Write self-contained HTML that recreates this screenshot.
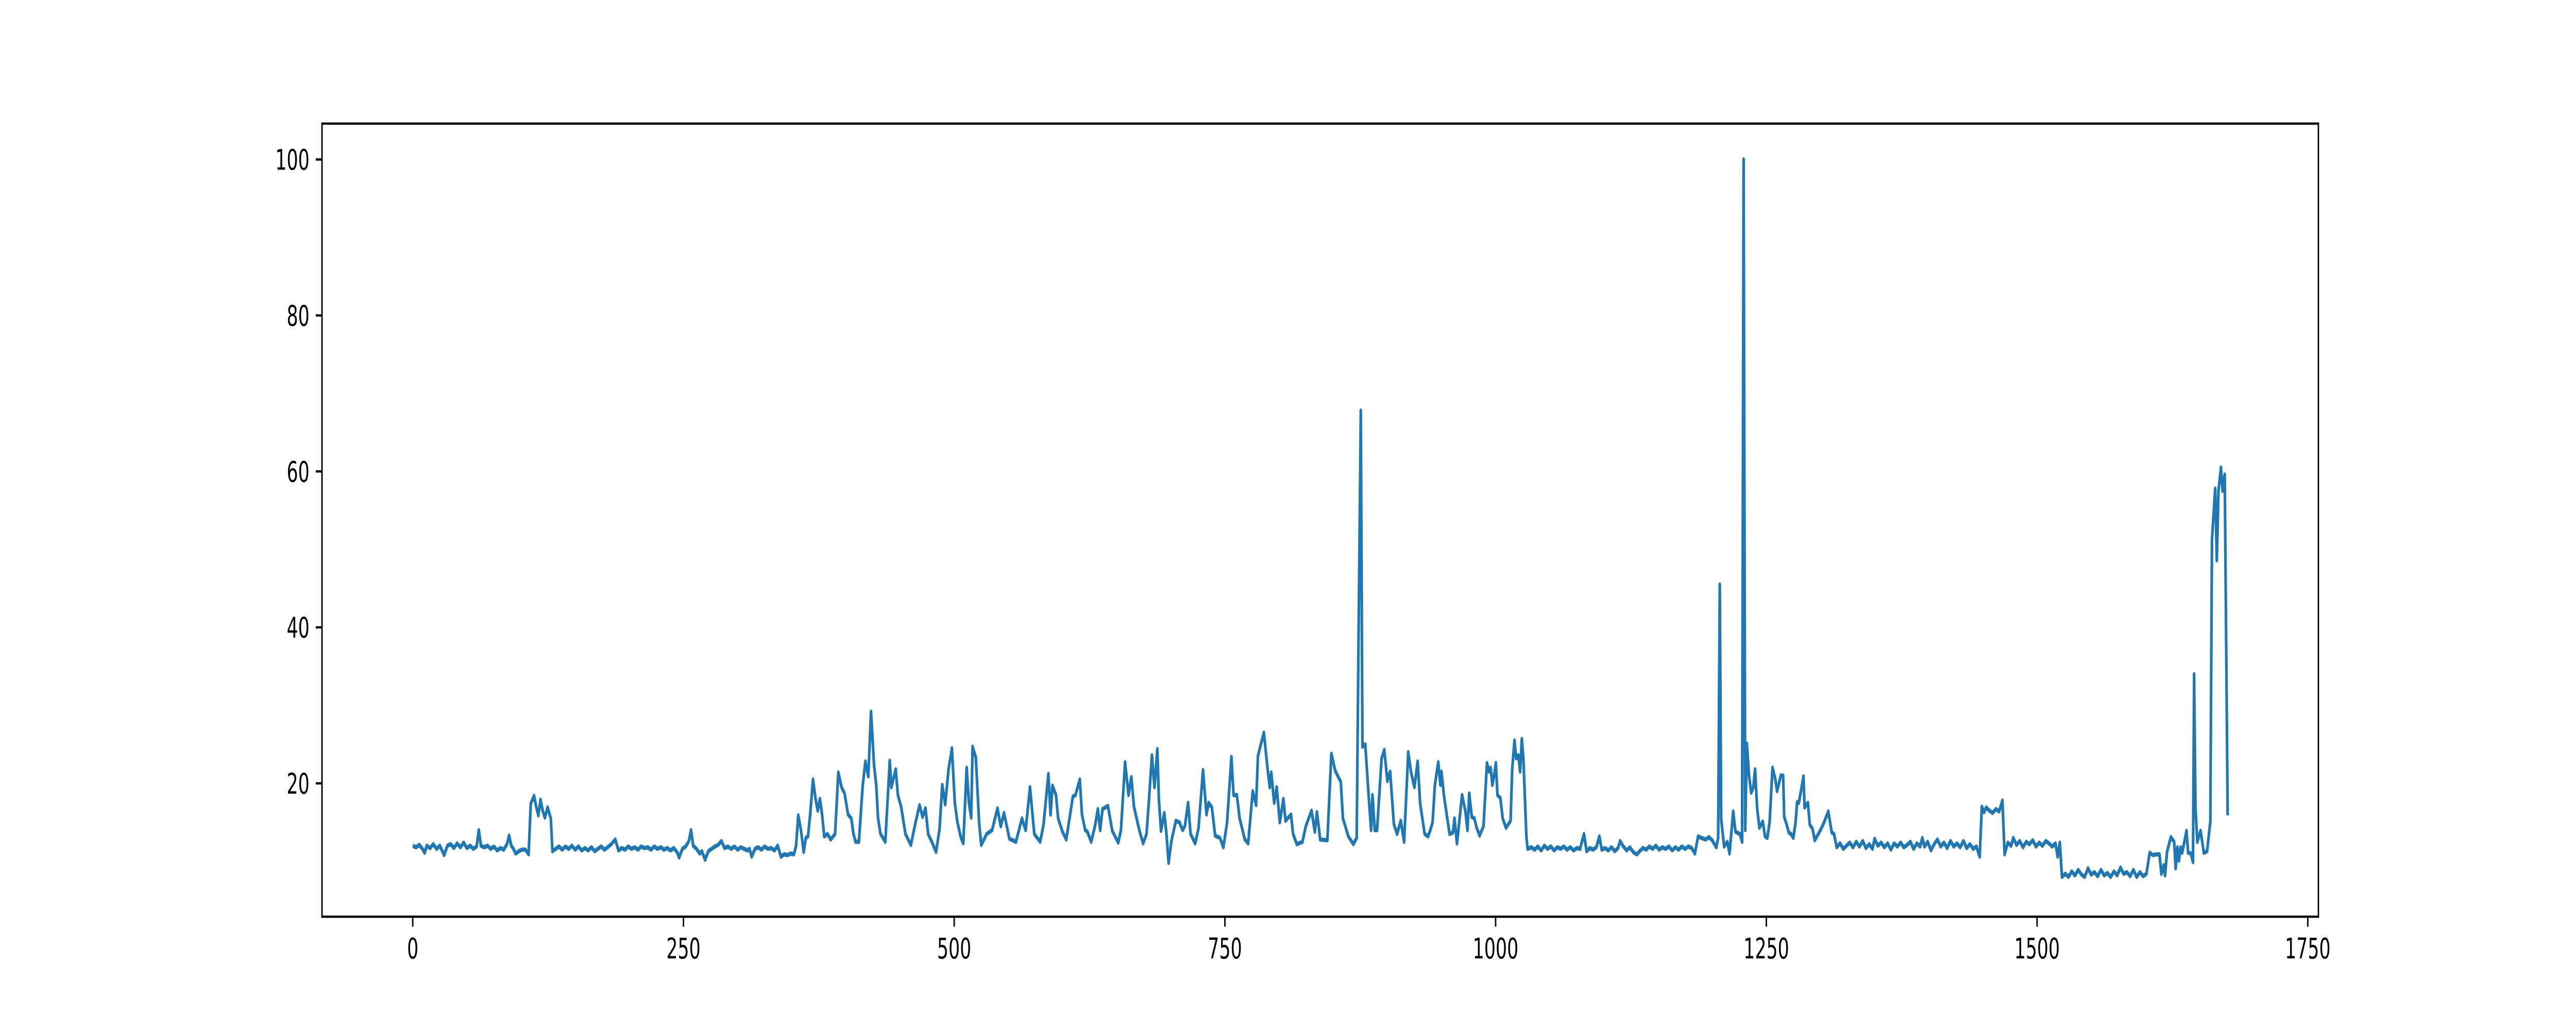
<!DOCTYPE html>
<html>
<head>
<meta charset="utf-8">
<style>
  html, body { margin: 0; padding: 0; background: #ffffff; width: 100%; height: 100%; overflow: hidden; }
  svg { display: block; width: 100vw; height: 100vh; }
  text { font-family: "DejaVu Sans", "Liberation Sans", sans-serif; font-size: 55.6px; fill: #000; }
</style>
</head>
<body>
<svg id="chart" viewBox="0 0 8000 2000" preserveAspectRatio="none" xmlns="http://www.w3.org/2000/svg">
  <rect x="0" y="0" width="8000" height="2000" fill="#ffffff"/>
  <g id="plot"></g>
  <g id="xaxis"></g>
  <g id="yaxis"></g>
  <rect x="1000" y="240" width="6200" height="1540" fill="none" stroke="#000" stroke-width="4.44"/>
</svg>
<script>
const xTicks = [0, 250, 500, 750, 1000, 1250, 1500, 1750];
const yTicks = [20, 40, 60, 80, 100];

const xValues = [
  0,3,6,9,11,13,16,19,22,25,29,32,35,38,41,44,47,50,53,56,59,61,63,66,69,72,75,78,81,84,87,89,91,93,95,98,101,104,107,
  109,112,114,116,118,120,122,124.5,127.5,129,
  132,135,138,141,144,147,150,153,156,159,162,165,168,171,174,177,180,184,187,190,193,196,199,202,205,208,211,214,217,220,223,226,229,232,235,238,241,244,246,249,252,255,257,259,262,265,267,270,273,276,279,282,285,288,291,294,297,300,303,306,309,311,313,316,319,322,325,328,331,334,337,340,343,346,349,352,354,
  356,358.5,361,363,365,367,369.6,372,374,376,378,380,383,386,390,393,396,398.8,402,405,407,409,412,415.5,418,420.7,423.2,426,428,429.7,432,436.4,440.5,442,446,448,451,455,460,464.5,468,470.8,473.5,476,480,483.3,486.5,489,491.7,494.8,497.9,500.6,503,506.3,508.4,511.5,513.6,515.7,517,520,523,525,530,535,540,543,546,551,557,562.6,566,570,574,579.4,582.5,587,589,590.8,594,596,600,603.5,609.6,612,616,618,
  621,623,626.5,630,632.7,634.8,637,642,646,651.5,654,657.8,661,663.6,666,671.3,674.5,677.6,679.7,682.6,685,687.6,689,691,694,696,698,700.6,704.7,708,711,713,716,718.3,722.5,725.6,729.8,733,735,738,741,745.4,748.6,752,756,758,761,763.6,768.4,771.5,775.7,778.8,780.5,783,786,789.3,791.4,792.8,795.5,797.8,800.7,804,806,811,813,816.4,821.6,824.7,830,833,835,838,844.6,848.3,851.9,857,859,864,868.6,871.7,873.5,875.5,877,879.6,883,885,886.3,888.4,890.5,894.7,897.2,900,902.6,906,909,912.4,915.5,919.3,921.8,925,928,
  930.3,934.5,937.6,939.7,941.8,943.9,947,949,950,952.2,954.3,957.5,960.6,962,964.3,969,972,974,975.6,978,980.4,982.5,985.2,988.8,992,994,995.4,997,998.6,1000.2,1001.7,1004.4,1006.5,1009.6,1013.8,1015.3,1017.4,1019,1021,1022.6,1024.2,1025.7,1028.4,1029.5,
  1033,1036,1039,1042,1045,1048,1051,1054,1057,1060,1063,1066,1069,1072,1075,1078,1081.6,1084,1087,1090,1093,1095.8,1098,1101,1104,1107,1110,1113,1115,1118,1121,1124,1127,1129,1130.7,1133,1136,1139,1142,1145,1148,1151,1154,1157,1160,1163,1166,1169,1172,1175,1178,1181,1184,
  1187,1190,1194,1197,1200,1203.8,1205.5,1207,1208.3,1211,1214,1216,1219.4,1221.5,1225.6,1227.6,1229,1230.5,1232,1234,1236,1238,1239.6,1241.5,1243.6,1246.7,1248.8,1250.9,1253,1255.7,1258.2,1259.9,1263.4,1265.5,1266.5,1268.6,1270.7,1272.8,1274.9,1277,1278.4,1280,1282.2,1284.3,1285.3,1288.4,1290.1,1292.6,1294.7,1300,1303,1307.2,1310.4,1312.5,1315,
  1318,1321,1324,1327,1330,1333,1336,1339,1342,1345,1348,1350,1353,1356,1359,1362,1365,1368,1371,1374,1377,1380,1383,1386,1389,1392,1394,1396,1399,1402,1405,1408,1411,1414,1417,1420,1423,1426,1429,1432,1435,1438,1441,1444,1447,
  1449,1451,1453,1456,1459,1462,1465,1468,1470,
  1473,1476,1478,1481,1484,1487,1490,1493,1496,1499,1502,1505,1508,1511,1514,1517,1519,1521,1523,
  1526,1529,1532,1535,1538,1541,1544,1547,1550,1553,1556,1559,1562,1565,1568,1571,1574,1577,1580,1583,1586,1589,1592,1595,1598,1601,
  1604,1607,1610,1613,1614.8,1617,1618.2,1620,1623.5,1626.6,1628,1629.6,1631,1632.6,1634,1638,1639.5,1642,1644,1645,1646.3,1648,1651,1654,1657,1660,1661.5,1664.5,1666,1667.5,1669.8,1671.3,1673.3,1676
];

const yValues = [
  12.0,11.8,12.1,11.6,11.1,12.0,11.7,12.2,11.6,12.0,10.8,12.0,12.2,11.7,12.3,11.8,12.4,11.7,12.0,11.6,11.9,14.0,12.0,11.8,12.0,11.6,11.9,11.4,11.7,11.5,12.2,13.3,12.0,11.6,11.0,11.3,11.5,11.5,10.9,
  17.4,18.4,17.0,15.9,17.9,16.5,15.6,16.9,15.5,11.3,
  11.6,11.9,11.5,11.9,11.6,12.0,11.5,11.9,11.4,11.7,11.4,11.8,11.3,11.6,11.9,11.5,11.8,12.3,12.8,11.4,11.7,11.5,11.9,11.6,11.8,11.5,11.9,11.7,11.8,11.5,11.9,11.6,11.8,11.5,11.7,11.4,11.7,11.2,10.5,11.6,11.9,12.6,14.0,12.0,11.6,11.0,11.3,10.2,11.3,11.6,11.9,12.1,12.6,11.7,11.9,11.6,11.9,11.5,11.8,11.6,11.4,11.6,10.6,11.6,11.8,11.5,11.9,11.6,11.7,11.4,12.0,10.6,10.9,10.8,11.0,10.9,12.0,
  15.9,14.0,11.2,13.0,13.2,16.0,20.5,18.0,16.5,18.0,16.0,13.2,13.5,12.8,13.5,21.4,19.5,18.7,16.0,15.5,13.5,12.5,12.5,19.7,22.8,20.9,29.2,22.3,19.8,15.5,13.5,12.5,22.9,19.5,21.8,18.5,17.0,13.5,12.1,15.1,17.2,15.7,16.8,13.5,12.3,11.2,14.2,19.8,17.3,21.8,24.5,17.5,15.0,13.0,12.3,22.0,17.5,15.6,24.7,23.3,15.0,12.1,13.5,14.0,16.8,14.5,16.2,12.9,12.5,15.5,14.0,19.5,13.5,12.5,14.7,21.2,16.0,19.7,18.5,15.5,13.8,12.8,18.3,18.5,20.5,16.0,
  14.0,13.8,12.5,14.5,16.7,14.0,16.7,17.1,13.9,12.4,14.0,22.7,18.5,20.8,17.0,13.8,12.3,13.5,17.5,23.6,19.5,24.4,18.0,13.9,16.2,13.5,9.8,12.6,15.2,15.0,14.0,14.5,17.5,13.5,12.3,14.2,21.7,16.0,17.5,16.9,13.3,13.0,11.8,15.0,23.4,18.5,18.5,15.5,12.8,12.3,19.0,17.2,23.5,24.9,26.5,22.0,19.5,21.4,17.5,19.5,15.0,18.0,15.2,16.0,13.5,12.2,12.5,14.5,16.5,13.8,16.3,12.8,12.7,23.8,21.6,20.2,15.5,13.2,12.2,13.0,40.0,67.8,24.7,25.0,17.9,14.0,18.5,14.0,14.0,23.2,24.3,20.3,21.5,14.8,13.5,15.2,12.5,24.0,21.5,19.5,22.8,
  17.4,13.5,13.2,14.0,15.0,19.8,22.7,19.8,21.5,18.5,16.5,13.5,13.7,15.5,12.3,18.5,16.5,14.0,18.7,15.7,15.5,14.3,13.3,14.5,22.6,21.5,22.0,19.8,21.0,22.6,18.5,18.1,15.5,14.3,15.2,21.8,25.5,23.2,23.6,21.5,25.7,23.0,13.2,11.6,
  11.8,11.5,11.9,11.4,12.0,11.6,11.9,11.4,11.8,11.6,11.9,11.5,11.8,11.4,11.7,11.6,13.5,11.3,11.7,11.5,11.8,13.2,11.5,11.7,11.4,11.8,11.3,11.7,12.6,11.9,11.4,11.8,11.2,11.0,10.9,11.3,11.7,11.5,11.9,11.6,12.0,11.5,11.8,11.6,11.9,11.4,11.8,11.5,11.9,11.6,11.9,11.7,11.0,
  13.2,13.0,12.8,13.1,12.7,11.8,13.0,45.5,15.4,11.9,12.5,11.0,16.4,13.8,13.5,12.5,100,14.0,25.1,21.0,18.8,19.5,21.8,16.8,14.3,15.1,13.2,13.0,15.0,22.0,20.6,19.0,21.0,21.0,15.7,14.8,13.7,13.5,13.0,15.0,17.6,17.5,19.2,20.9,16.9,17.5,14.7,14.2,12.7,14.0,14.9,16.4,13.7,13.5,11.8,
  12.3,11.6,12.0,12.4,11.8,12.5,11.9,12.6,11.7,12.2,11.6,12.9,12.0,12.4,11.8,12.3,11.5,12.3,11.9,12.4,11.8,12.1,12.5,11.6,12.3,11.9,13.0,11.9,12.5,11.4,12.2,12.8,11.9,12.4,11.7,12.6,11.9,12.3,11.8,12.6,11.7,12.2,11.6,11.9,10.6,
  17.0,16.3,16.9,16.5,16.2,16.7,16.4,17.8,10.9,
  12.4,12.0,13.0,12.1,12.6,11.8,12.5,12.2,12.7,11.9,12.4,12.0,12.6,12.3,11.9,12.3,10.6,12.4,8.0,
  8.4,8.0,8.7,8.2,8.9,8.3,8.0,9.1,8.3,8.6,8.1,8.9,8.2,8.5,8.0,8.7,8.2,9.2,8.4,8.6,8.1,8.9,8.0,8.6,8.1,8.4,
  11.1,10.8,10.9,10.9,8.4,9.5,8.2,11.2,13.1,12.5,9.1,11.8,10.1,11.8,11.1,13.9,11.1,11.0,9.9,34.0,16.8,12.5,13.9,11.1,11.3,15.1,51.2,57.8,48.6,57.5,60.5,57.5,59.6,15.9
];

const AX = { left: 1000, right: 7200, top: 240, bottom: 1780 };
const XMIN = -83.8, XMAX = 1759.8, YMIN = 2.9, YMAX = 104.6;
function xScale(v) { return AX.left + (v - XMIN) / (XMAX - XMIN) * (AX.right - AX.left); }
function yScale(v) { return AX.bottom - (v - YMIN) / (YMAX - YMIN) * (AX.bottom - AX.top); }

const NS = 'http://www.w3.org/2000/svg';
const plot = document.getElementById('plot');
const xaxis = document.getElementById('xaxis');
const yaxis = document.getElementById('yaxis');

let d = '';
const n = Math.min(xValues.length, yValues.length);
for (let i = 0; i < n; i++) {
  d += (i === 0 ? 'M' : 'L') + xScale(xValues[i]).toFixed(2) + ' ' + yScale(yValues[i]).toFixed(2) + ' ';
}
const line = document.createElementNS(NS, 'path');


line.setAttribute('d', d);
line.setAttribute('fill', 'none');
line.setAttribute('stroke', '#1f77b4');
line.setAttribute('stroke-width', '8.33');
line.setAttribute('stroke-linejoin', 'round');
line.setAttribute('stroke-linecap', 'butt');
plot.appendChild(line);

xTicks.forEach(function (t) {
  const x = xScale(t);
  const tick = document.createElementNS(NS, 'line');
  
  
  tick.setAttribute('x1', x); tick.setAttribute('x2', x);
  tick.setAttribute('y1', AX.bottom); tick.setAttribute('y2', AX.bottom + 19.4);
  tick.setAttribute('stroke', '#000'); tick.setAttribute('stroke-width', '4.44');
  xaxis.appendChild(tick);
  const lab = document.createElementNS(NS, 'text');
  
  
  lab.setAttribute('x', x);
  lab.setAttribute('y', AX.bottom + 19.4 + 19.4 + 42);
  lab.setAttribute('text-anchor', 'middle');
  lab.textContent = String(t);
  xaxis.appendChild(lab);
});

yTicks.forEach(function (t) {
  const y = yScale(t);
  const tick = document.createElementNS(NS, 'line');
  
  
  tick.setAttribute('x1', AX.left - 19.4); tick.setAttribute('x2', AX.left);
  tick.setAttribute('y1', y); tick.setAttribute('y2', y);
  tick.setAttribute('stroke', '#000'); tick.setAttribute('stroke-width', '4.44');
  yaxis.appendChild(tick);
  const lab = document.createElementNS(NS, 'text');
  
  
  lab.setAttribute('x', AX.left - 19.4 - 19.4);
  lab.setAttribute('y', y + 20);
  lab.setAttribute('text-anchor', 'end');
  lab.textContent = String(t);
  yaxis.appendChild(lab);
});
</script>
</body>
</html>
